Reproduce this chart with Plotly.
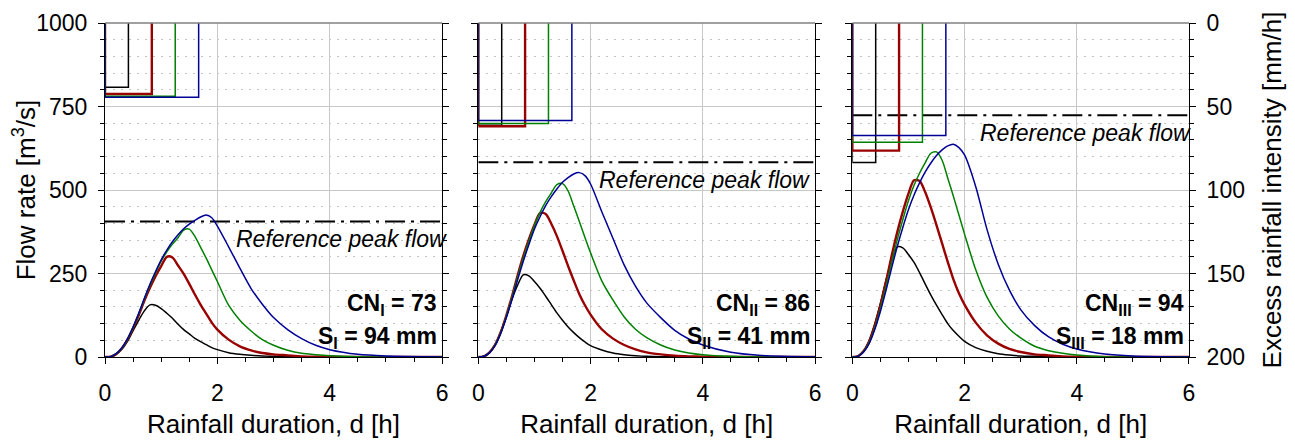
import plotly.graph_objects as go

# ---------------- data ----------------
T = [0, 0.1, 0.2, 0.3, 0.4, 0.5, 0.6, 0.7, 0.8, 0.9, 1.0, 1.1, 1.2, 1.3, 1.4, 1.5,
     1.6, 1.7, 1.8, 1.9, 2.0, 2.2, 2.4, 2.6, 2.8, 3.0, 3.25, 3.5, 3.75, 4.0, 4.5, 5.0, 6.0]

DURATIONS = [0.4167, 0.8333, 1.25, 1.6667]          # rainfall durations [h]

# Panel I  (CN = 73)
Q1_BLACK = [0, 1, 8, 23, 47, 79, 110, 138, 156, 155, 145, 131, 116, 98, 82, 69, 56, 46, 37, 28, 22, 13, 8, 5, 3, 2, 1, 0, 0, 0, 0, 0, 0]
Q1_RED   = [0, 1, 9, 26, 52, 86, 125, 168, 207, 242, 272, 300, 298, 274, 249, 219, 187, 157, 130, 103, 82, 52, 32, 20, 12, 8, 5, 2, 1, 1, 0, 0, 0]
Q1_GREEN = [0, 1, 10, 26, 53, 88, 129, 173, 215, 252, 287, 315, 338, 357, 380, 383, 361, 329, 296, 261, 226, 155, 110, 78, 52, 35, 20, 11, 7, 4, 1, 0, 0]
Q1_BLUE  = [0, 1, 10, 27, 54, 90, 131, 176, 218, 256, 291, 320, 345, 366, 384, 398, 409, 419, 425, 417, 392, 330, 266, 205, 158, 118, 82, 55, 35, 22, 8, 3, 0]
I1 = [38.5, 42.5, 43.8, 44.5]                        # excess rainfall intensity [mm/h]

# Panel II (CN = 86)
Q2_BLACK = [0, 2, 13, 37, 75, 122, 173, 215, 246, 243, 226, 206, 182, 157, 132, 110, 90, 73, 58, 45, 34, 21, 12, 7, 4, 2, 1, 1, 0, 0, 0, 0, 0]
Q2_RED   = [0, 2, 14, 37, 75, 125, 182, 244, 302, 352, 396, 431, 428, 399, 362, 318, 272, 229, 188, 155, 127, 83, 55, 36, 23, 14, 8, 4, 2, 1, 0, 0, 0]
Q2_GREEN = [0, 2, 13, 36, 73, 122, 178, 238, 295, 346, 394, 433, 465, 491, 516, 519, 497, 452, 406, 358, 312, 228, 170, 120, 83, 58, 36, 21, 12, 7, 2, 0, 0]
Q2_BLUE  = [0, 2, 13, 35, 71, 118, 172, 231, 286, 336, 383, 420, 453, 480, 503, 523, 537, 548, 552, 543, 518, 435, 355, 275, 212, 162, 118, 80, 54, 36, 14, 5, 0]
I2 = [61.2, 61.8, 60.2, 58.4]

# Panel III (CN = 94)
Q3_BLACK = [0, 3, 18, 50, 100, 160, 230, 287, 330, 327, 307, 283, 252, 218, 185, 155, 127, 100, 79, 62, 47, 28, 17, 10, 6, 3, 2, 1, 0, 0, 0, 0, 0]
Q3_RED   = [0, 2, 17, 46, 93, 154, 225, 302, 373, 435, 489, 529, 527, 493, 447, 395, 340, 285, 233, 191, 157, 103, 65, 40, 24, 15, 8, 5, 2, 1, 0, 0, 0]
Q3_GREEN = [0, 2, 16, 43, 87, 144, 211, 282, 350, 411, 468, 514, 551, 582, 610, 614, 589, 536, 482, 425, 368, 261, 179, 123, 84, 57, 32, 19, 11, 6, 1, 0, 0]
Q3_BLUE  = [0, 2, 15, 40, 82, 136, 199, 266, 330, 388, 441, 485, 522, 554, 581, 603, 620, 632, 637, 627, 605, 510, 382, 278, 200, 142, 94, 60, 38, 24, 9, 3, 0]
I3 = [83.5, 76.4, 71.4, 67.4]

Q_REF = [406, 583, 724]                              # reference peak flow [m3/s]
CN_LABELS = ["CN<sub>I</sub> = 73", "CN<sub>II</sub> = 86", "CN<sub>III</sub> = 94"]
S_LABELS = ["S<sub>I</sub> = 94 mm", "S<sub>II</sub> = 41 mm", "S<sub>III</sub> = 18 mm"]
X_TITLE = "Rainfall duration, d [h]"
Y_TITLE = "Flow rate [m<sup>3</sup>/s]"
Y2_TITLE = "Excess rainfall intensity [mm/h]"

PANELS = [
    ([Q1_BLACK, Q1_RED, Q1_GREEN, Q1_BLUE], I1),
    ([Q2_BLACK, Q2_RED, Q2_GREEN, Q2_BLUE], I2),
    ([Q3_BLACK, Q3_RED, Q3_GREEN, Q3_BLUE], I3),
]

# ---------------- style ----------------
COLORS = ["#000000", "#990000", "#008000", "#000096"]
WIDTHS = [1.5, 2.4, 1.5, 1.5]
FONT = "Liberation Sans, Arial, sans-serif"
DOMAINS = [[0.0, 0.311], [0.3444, 0.655], [0.6894, 1.0]]
REF_XSHIFT = [7, -3, 4]

fig = go.Figure()

for p, (curves, intens) in enumerate(PANELS):
    s = "" if p == 0 else str(p + 1)
    xa, ya, ya2 = "x" + s, "y" + s, "y" + str(p + 4)
    # hyetographs (secondary reversed axis)
    for k in range(4):
        d = DURATIONS[k]
        fig.add_trace(go.Scatter(
            x=[0, 0, d, d], y=[0, intens[k], intens[k], 0], mode="lines",
            line=dict(color=COLORS[k], width=WIDTHS[k]),
            xaxis=xa, yaxis=ya2, showlegend=False, hoverinfo="skip"))
    # reference peak flow
    fig.add_trace(go.Scatter(
        x=[0, 6], y=[Q_REF[p], Q_REF[p]], mode="lines",
        line=dict(color="black", width=2, dash="20px,6px,3px,6px"),
        xaxis=xa, yaxis=ya, showlegend=False, hoverinfo="skip"))
    # hydrographs
    for k in range(4):
        fig.add_trace(go.Scatter(
            x=T, y=curves[k], mode="lines",
            line=dict(color=COLORS[k], width=WIDTHS[k], shape="spline", smoothing=0.8),
            xaxis=xa, yaxis=ya, showlegend=False))

    common_ticks = dict(ticks="outside", ticklen=6, tickcolor="black", tickwidth=1,
                        showline=True, linecolor="black", linewidth=1, automargin=False,
                        tickfont=dict(size=23, family=FONT, color="black"), zeroline=False)
    title_font = dict(size=26, family=FONT, color="black")

    fig.layout["xaxis" + s] = dict(
        domain=DOMAINS[p], anchor=ya, range=[0, 6], dtick=2,
        showgrid=True, gridcolor="#c8c8c8", gridwidth=1,
        minor=dict(dtick=0.5, ticks="outside", ticklen=4, tickcolor="black", showgrid=False),
        ticklabelstandoff=9,
        title=dict(text=X_TITLE, font=title_font, standoff=10),
        **common_ticks)

    yax = dict(
        domain=[0, 1], anchor=xa, range=[0, 1000], dtick=250,
        showgrid=True, gridcolor="#c8c8c8", gridwidth=1,
        minor=dict(dtick=50, ticks="outside", ticklen=4, tickcolor="black",
                   showgrid=True, gridcolor="#c4c4c4", griddash="2px,6px", gridwidth=1),
        showticklabels=(p == 0), ticklabelstandoff=6,
        **common_ticks)
    if p == 0:
        yax["title"] = dict(text=Y_TITLE, font=title_font, standoff=2)
    fig.layout["yaxis" + s] = yax

    y2ax = dict(
        overlaying=ya, anchor=xa, side="right", range=[200, 0], dtick=50,
        showgrid=False,
        minor=dict(dtick=10, ticks="outside", ticklen=4, tickcolor="black", showgrid=False),
        showticklabels=(p == 2), ticklabelstandoff=6,
        **common_ticks)
    if p == 2:
        y2ax["title"] = dict(text=Y2_TITLE, font=title_font, standoff=18)
    fig.layout["yaxis" + str(p + 4)] = y2ax

    # top frame line (grey)
    fig.add_shape(type="line", xref=xa + " domain", yref=ya + " domain",
                  x0=0, x1=1, y0=1, y1=1, line=dict(color="#808080", width=1.5))

    fig.add_annotation(text="Reference peak flow", xref=xa + " domain", x=1, xanchor="right",
                       yref=ya, y=Q_REF[p], yanchor="top", yshift=-3, xshift=REF_XSHIFT[p],
                       showarrow=False,
                       font=dict(size=23, family=FONT, color="black", style="italic"))
    fig.add_annotation(text="<b>" + CN_LABELS[p] + "</b>", xref=xa + " domain", x=1,
                       xanchor="right", xshift=-3, yref=ya, y=157, yanchor="middle",
                       showarrow=False, font=dict(size=23, family=FONT, color="black"))
    fig.add_annotation(text="<b>" + S_LABELS[p] + "</b>", xref=xa + " domain", x=1,
                       xanchor="right", xshift=-3, yref=ya, y=57, yanchor="middle",
                       showarrow=False, font=dict(size=23, family=FONT, color="black"))

# the page is shown with an 8 px body margin, so the figure is sized to fit the window
fig.update_layout(
    width=1287, height=433,
    margin=dict(l=97, r=106, t=15, b=84, autoexpand=False),
    paper_bgcolor="white", plot_bgcolor="white",
    font=dict(family=FONT, color="black"),
    showlegend=False,
)

fig.write_html("out.html")
